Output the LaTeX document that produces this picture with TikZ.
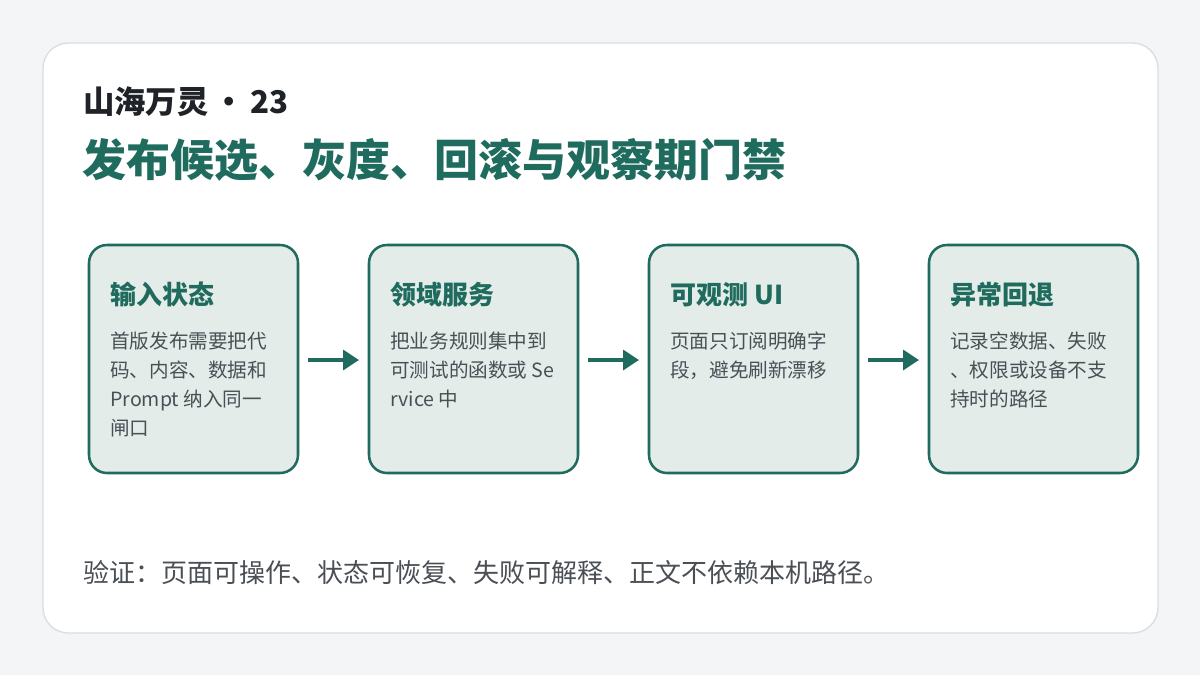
\documentclass[tikz,border=0pt]{standalone}
\usepackage{fontspec}
\setmainfont{Noto Sans CJK SC}
\usetikzlibrary{arrows.meta}
\definecolor{teal}{HTML}{1F6B5D}
\definecolor{boxfill}{HTML}{E4ECE9}
\definecolor{bodyc}{HTML}{4A4F55}
\definecolor{bg}{HTML}{F4F5F7}
\definecolor{cardline}{HTML}{DADDE1}
\definecolor{dark}{HTML}{1F2328}
\begin{document}
\begin{tikzpicture}[x=0.75pt,y=-0.75pt,
  card/.style={draw=teal,line width=1.9pt,fill=boxfill,rounded corners=13.5pt},
  head/.style={anchor=base west,inner sep=0pt,font=\fontsize{19.5}{23}\selectfont\bfseries,text=teal},
  body/.style={anchor=north west,inner sep=0pt,align=left,font=\fontsize{14.7}{21.75}\selectfont,text=bodyc},
  arr/.style={draw=teal,line width=2.6pt,-{Triangle[length=12pt,width=15pt]}}]
\useasboundingbox (0,0) rectangle (1200,675);
\fill[bg] (0,0) rectangle (1200,675);
\draw[cardline,fill=white,line width=1pt,rounded corners=19pt] (43,43) rectangle (1158,633);
\node[anchor=base west,inner sep=0pt,font=\fontsize{23.5}{28}\selectfont\bfseries,text=dark] (t1) at (83,113) {山海万灵\,•\,23};
\node[anchor=base west,inner sep=0pt,font=\fontsize{33}{40}\selectfont\bfseries,text=teal] (t2) at (82,176) {发布候选、灰度、回滚与观察期门禁};
\foreach \x/\n/\h/\b in {89/b1/输入状态/{首版发布需要把代\\码、内容、数据和\\Prompt 纳入同一\\闸口},
  369/b2/领域服务/{把业务规则集中到\\可测试的函数或 Se\\rvice 中},
  649/b3/可观测 UI/{页面只订阅明确字\\段，避免刷新漂移},
  929/b4/异常回退/{记录空数据、失败\\、权限或设备不支\\持时的路径}}{
  \draw[card] (\x,245) rectangle ++(209,228);
  \node[head] (\n h) at (\x+21,304) {\h};
  \node[body] (\n t) at (\x+21,332) {\b};
  \coordinate (\n L) at (\x,360);
  \coordinate (\n R) at (\x+209,360);
}
\draw[arr] ([xshift=7.5pt]b1R) -- ([xshift=-7.5pt]b2L);
\draw[arr] ([xshift=7.5pt]b2R) -- ([xshift=-7.5pt]b3L);
\draw[arr] ([xshift=7.5pt]b3R) -- ([xshift=-7.5pt]b4L);
\node[anchor=base west,inner sep=0pt,font=\fontsize{19.5}{23}\selectfont,text=bodyc] (f) at (83,582) {验证：页面可操作、状态可恢复、失败可解释、正文不依赖本机路径。};
\end{tikzpicture}
\end{document}
